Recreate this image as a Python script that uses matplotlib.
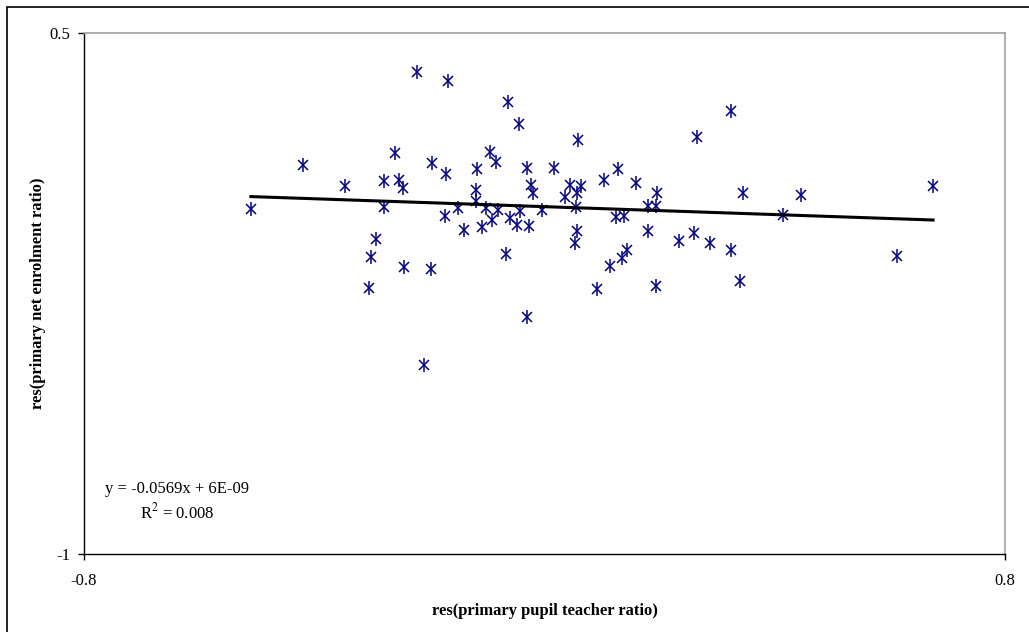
import matplotlib
matplotlib.use("Agg")
import matplotlib.pyplot as plt
from matplotlib.patches import Rectangle

plt.rcParams["font.family"] = ["Liberation Serif", "DejaVu Serif"]
plt.rcParams["mathtext.fontset"] = "stix"

# residuals
res_ptr = [-0.510, -0.420, -0.347, -0.260, -0.279, -0.253, -0.246, -0.279, -0.293, -0.301,
           -0.305, -0.244, -0.197, -0.222, -0.168, -0.196, -0.171, -0.117, -0.095, -0.084,
           -0.119, -0.119, -0.150, -0.173, -0.140, -0.109, -0.102, -0.091, -0.081, -0.067,
           -0.064, -0.044, -0.060, -0.048, -0.043, -0.027, -0.031, 0.016, -0.024, -0.020,
           -0.004, -0.031, 0.058, 0.044, 0.063, 0.056, 0.036, 0.055, 0.103, 0.128,
           0.159, 0.195, 0.180, 0.194, 0.124, 0.138, 0.056, 0.053, 0.180, 0.234,
           0.260, 0.287, 0.324, 0.340, 0.143, 0.135, 0.114, 0.091, 0.194, 0.265,
           0.324, 0.345, 0.445, 0.414, 0.675, 0.612, -0.209]
res_ner = [-0.007, 0.120, 0.060, 0.155, 0.074, 0.077, 0.054, -0.001, -0.093, -0.145,
           -0.234, -0.174, -0.179, 0.388, 0.362, 0.126, 0.094, 0.108, 0.157, 0.129,
           0.048, 0.016, -0.004, -0.027, -0.067, -0.059, -0.004, -0.038, -0.010, -0.136,
           0.301, 0.238, -0.033, -0.053, -0.012, -0.056, 0.111, 0.111, 0.062, 0.039,
           -0.010, -0.318, 0.192, 0.062, 0.060, 0.039, 0.028, -0.001, 0.077, 0.108,
           0.068, 0.039, 0.002, 0.002, -0.030, -0.027, -0.070, -0.105, -0.070, -0.099,
           -0.076, -0.105, -0.125, -0.214, -0.125, -0.148, -0.171, -0.237, -0.228, 0.201,
           0.275, 0.039, 0.034, -0.024, 0.060, -0.142, -0.456]

# trendline as printed on the chart
slope = -0.0569
intercept = 6e-09
r2 = 0.008

fig = plt.figure(figsize=(10.29, 6.32), dpi=100)
ax = fig.add_axes([0.0816, 0.1234, 0.8951, 0.8244])

navy = "#000080"
ax.plot(res_ptr, res_ner, ls="none", marker="x", ms=7.5, mew=1.1, color=navy)
ax.plot(res_ptr, res_ner, ls="none", marker="|", ms=9.5, mew=1.1, color=navy)

x0, x1 = min(res_ptr), max(res_ptr)
ax.plot([x0, x1], [slope * x0 + intercept, slope * x1 + intercept], color="black", lw=2.2)

ax.set_xlim(-0.8, 0.8)
ax.set_ylim(-1, 0.5)
ax.set_xticks([-0.8, 0.8])
ax.set_yticks([-1, 0.5])
ax.set_xticklabels(["-0.8", "0.8"])
ax.set_yticklabels(["-1", "0.5"])
ax.tick_params(direction="out", length=4, width=1, labelsize=12)
ax.tick_params(axis="x", pad=10)
ax.tick_params(axis="y", pad=6)
for s in ["top", "right"]:
    ax.spines[s].set_color("#a0a0a0")
    ax.spines[s].set_linewidth(1.2)
for s in ["left", "bottom"]:
    ax.spines[s].set_color("black")
    ax.spines[s].set_linewidth(1.0)

ax.set_xlabel("res(primary pupil teacher ratio)", fontsize=12, fontweight="bold", labelpad=10)
ax.set_ylabel("res(primary net enrolment ratio)", fontsize=12, fontweight="bold", labelpad=2)

fig.text(177 / 1029, 1 - 502 / 632,
         f"y = {slope}x + 6E-09\nR$^2$ = {r2:.3f}",
         ha="center", va="center", multialignment="center", fontsize=12, linespacing=1.35)

fig.patches.append(Rectangle((7 / 1029, -0.1), 1.2, 1.1 - 7 / 632, transform=fig.transFigure,
                             fill=False, edgecolor="black", lw=1.2))

fig.savefig("out.png", dpi=100)
